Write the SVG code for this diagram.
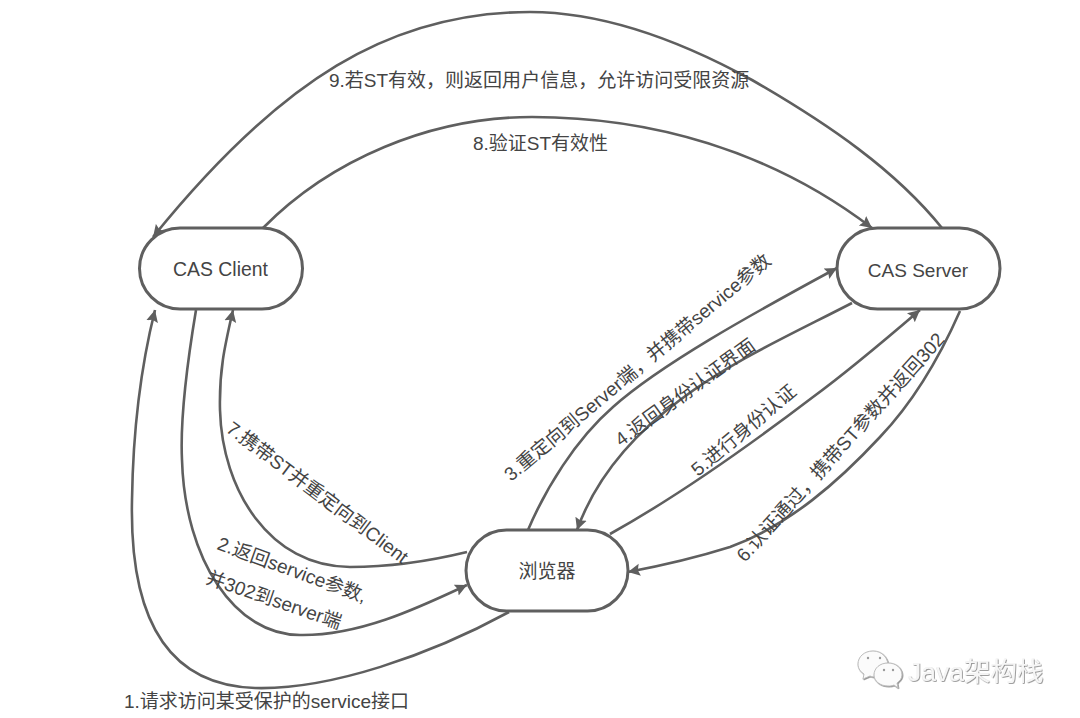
<svg xmlns="http://www.w3.org/2000/svg" width="1080" height="718" viewBox="0 0 1080 718">
<style>
text{font-family:"Liberation Sans","Noto Sans CJK SC",sans-serif;fill:#444;font-size:19px}
.n{fill:#fff;stroke:#5f5f5f;stroke-width:3}
.c{fill:none;stroke:#5f5f5f;stroke-width:2.6;marker-end:url(#a)}
.w{fill:#f6f6f6;font-size:26.5px;filter:url(#e)}
.b{fill:#fbfbfb;stroke:#bdbdbd;stroke-width:1;filter:url(#e)}
.d{fill:#9a9a9a}
</style>
<defs>
<marker id="a" markerUnits="userSpaceOnUse" markerWidth="15" markerHeight="14" refX="12" refY="7" orient="auto"><path d="M0 1L12 7L0 13L2 7Z" fill="#5f5f5f"/></marker>
<filter id="e" x="-10%" y="-10%" width="120%" height="120%"><feDropShadow dx=".7" dy=".7" stdDeviation=".35" flood-color="#777"/></filter>
</defs>
<rect width="1080" height="718" fill="#fff"/>
<g id="connectors">
<path class="c" d="M942 228C895 170 830 125 752 80C690 46 610 12 530 12C390 12 280 80 153 237"/>
<path class="c" d="M263 228C330 160 430 117 532 117C650 117 770 150 872 228"/>
<path class="c" d="M509 612C430 655 330 690 255 688C150 685 130 590 132 500C133 430 140 370 155 310"/>
<path class="c" d="M196 310C186 370 180 420 182 460C185 560 235 635 300 635C360 636 420 607 467 585"/>
<path class="c" d="M467 552C430 561 390 567 350 567C270 567 222 490 220 410C219 370 225 345 233 310"/>
<path class="c" d="M528 530C545 490 575 440 613 407C660 365 750 315 837 268"/>
<path class="c" d="M852 303C790 335 730 362 680 400C630 437 595 480 577 530"/>
<path class="c" d="M610 534C680 495 750 445 813 397C850 370 885 340 920 310"/>
<path class="c" d="M960 311C945 345 920 395 880 437C840 480 790 525 730 547C695 558 665 565 628 572"/>
</g>
<g id="client"><rect class="n" x="139.500" y="228" width="163" height="81" rx="40.500"/><text x="220.500" y="276" text-anchor="middle" style="font-size:19.400px">CAS Client</text></g>
<g id="server"><rect class="n" x="837" y="228" width="163" height="81" rx="40.500"/><text x="918" y="277" text-anchor="middle">CAS Server</text></g>
<g id="browser"><rect class="n" x="466" y="530" width="162" height="81" rx="40.500"/><text x="547" y="578" text-anchor="middle">浏览器</text></g>
<g id="labels">
<text x="329" y="87">9.若ST有效，则返回用户信息，允许访问受限资源</text>
<text x="473" y="150">8.验证ST有效性</text>
<text transform="translate(511 482) rotate(-40)">3.重定向到Server端，并携带service参数</text>
<text transform="translate(621 447) rotate(-36)">4.返回身份认证界面</text>
<text transform="translate(698 477) rotate(-40)">5.进行身份认证</text>
<text transform="translate(745 563) rotate(-48)">6.认证通过，携带ST参数并返回302</text>
<text transform="translate(225 431) rotate(37)">7.携带ST并重定向到Client</text>
<text transform="translate(216 549) rotate(20)">2.返回service参数,</text>
<text transform="translate(205 583) rotate(19)">并302到server端</text>
<text x="124" y="708">1.请求访问某受保护的service接口</text>
</g>
<g id="watermark">
<path class="b" d="M873 651C864 651 858 657 858 664C858 669 861 672 864 674L863 679L870 676C872 677 874 677 876 677L888 668C889 658 882 651 873 651Z"/>
<path class="b" d="M888 663C880 663 874 668 874 675C874 681 880 686 888 686C890 686 892 686 894 685L898 688L897 683C900 681 902 678 902 675C902 668 896 663 888 663Z"/>
<circle class="d" cx="868" cy="658" r="1.200"/><circle class="d" cx="880" cy="658" r="1.200"/><circle class="d" cx="884" cy="670" r="1.200"/><circle class="d" cx="893" cy="670" r="1.200"/>
<text class="w" x="908" y="681">Java架构栈</text>
</g>
</svg>
